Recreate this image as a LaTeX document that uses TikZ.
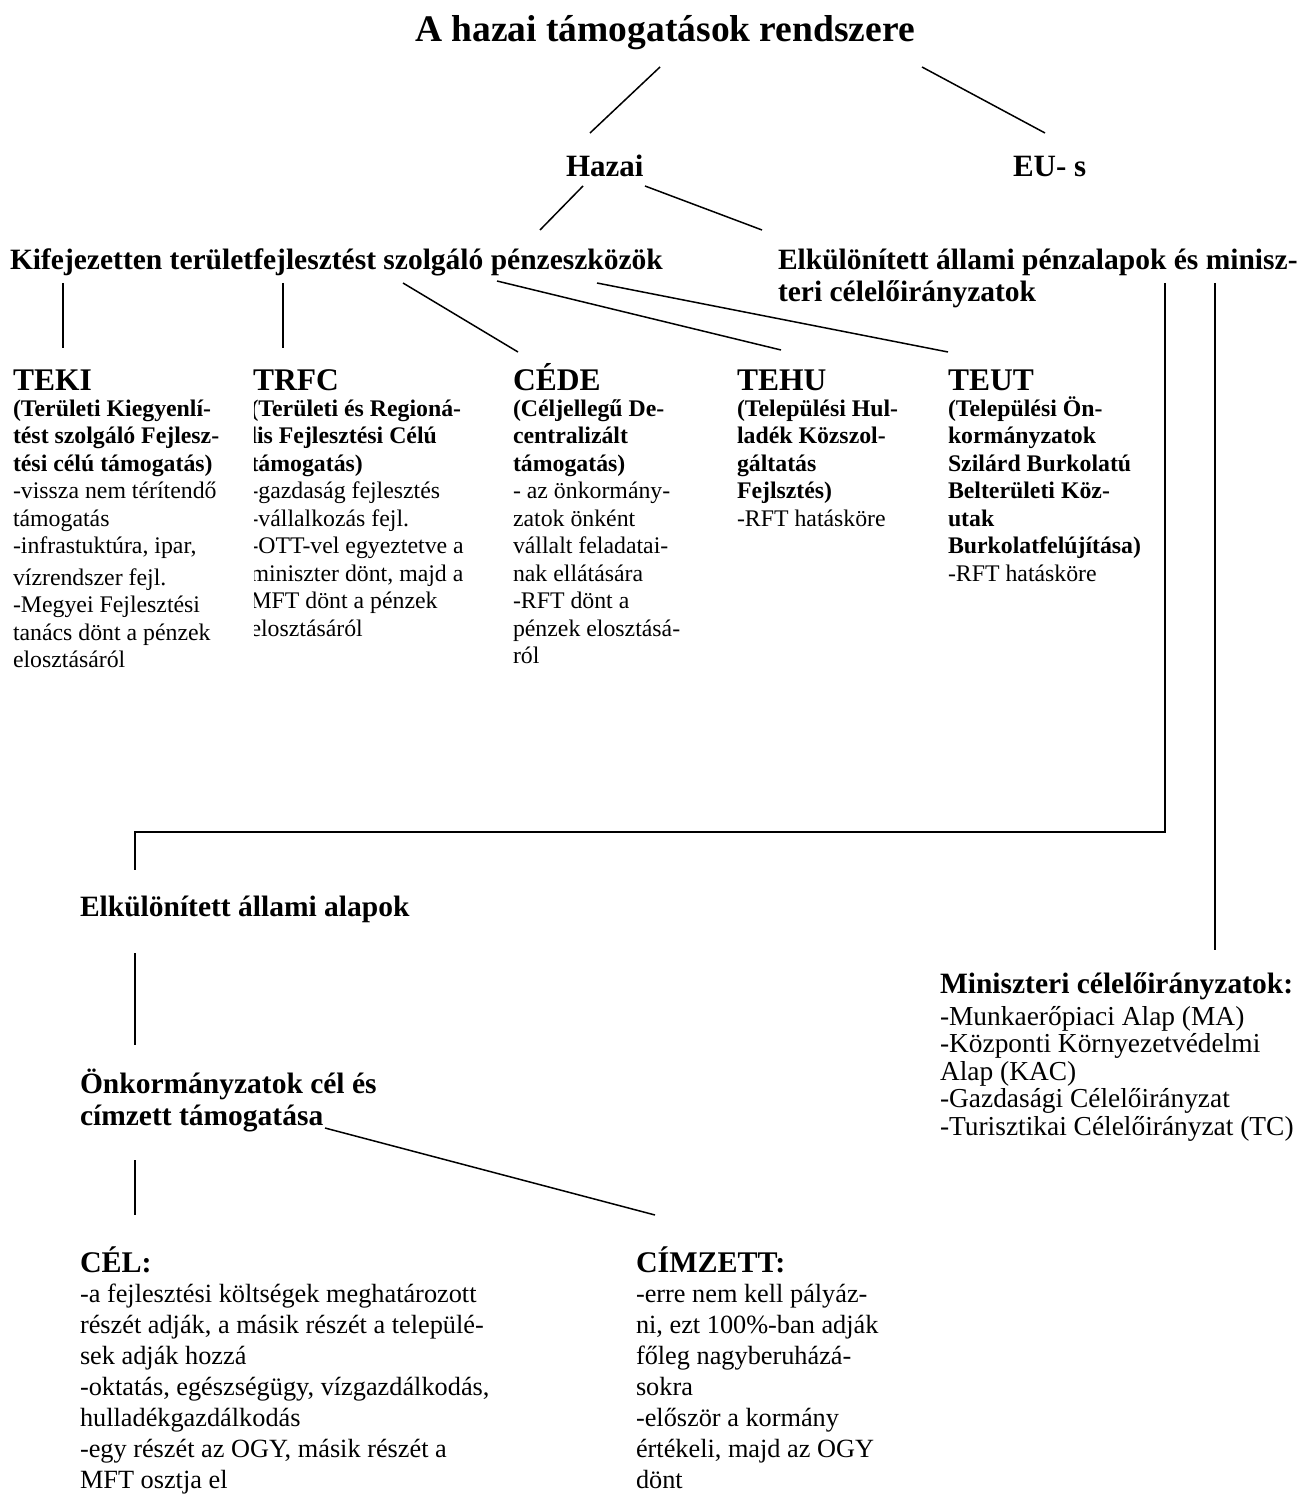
\documentclass[tikz,border=0pt]{standalone}
\usepackage{fontspec}
\setmainfont{Liberation Serif}
\newcommand{\hzlines}[2]{\vtop{\baselineskip=#1\relax\lineskiplimit=-\maxdimen\lineskip=0pt\halign{##\hfil\cr#2\crcr}}}
\begin{document}
\begin{tikzpicture}[x=1pt,y=-1pt,
  txt/.style={inner sep=0pt, outer sep=0pt, anchor=base west},
  hd/.style={txt, font=\bfseries\fontsize{31.5}{34}\selectfont},
  mid/.style={txt, font=\bfseries\fontsize{29.5}{32}\selectfont},
  sub/.style={txt, font=\fontsize{23.8}{27.5}\selectfont},
  big/.style={txt, font=\fontsize{26.3}{31}\selectfont},
  conn/.style={line width=1.5pt, line cap=butt}]
\useasboundingbox[fill=white] (0,0) rectangle (1300,1495);

% ---- top levels
\node[inner sep=0pt, anchor=base, font=\bfseries\fontsize{37.5}{40}\selectfont] (title) at (665,42) {A hazai támogatások rendszere};
\node[txt, font=\bfseries\fontsize{31}{34}\selectfont] (hazai) at (566,177) {Hazai};
\node[txt, font=\bfseries\fontsize{31}{34}\selectfont] (eu) at (1013,177) {EU- s};
\node[mid] (kif) at (10,270) {Kifejezetten területfejlesztést szolgáló pénzeszközök};
\node[mid] (elk) at (778,270) {\hzlines{32pt}{Elkülönített állami pénzalapok és minisz-\cr teri célelőirányzatok}};

% ---- five funds
\node[hd] (teki) at (13,390) {TEKI};
\node[sub] (tekib) at (13,416) {\hzlines{27.5pt}{\textbf{(Területi Kiegyenlí-}\cr \textbf{tést szolgáló Fejlesz-}\cr \textbf{tési célú támogatás)}\cr -vissza nem térítendő\cr támogatás\cr -infrastuktúra, ipar,\cr\noalign{\vskip4pt} vízrendszer fejl.\cr -Megyei Fejlesztési\cr tanács dönt a pénzek\cr elosztásáról}};

\node[hd] (trfc) at (253,390) {TRFC};
\begin{scope}
\clip (254,392) rectangle (505,700);
\node[sub] (trfcb) at (250.5,416) {\hzlines{27.5pt}{\textbf{(Területi és Regioná-}\cr \textbf{lis Fejlesztési Célú}\cr \textbf{támogatás)}\cr -gazdaság fejlesztés\cr -vállalkozás fejl.\cr -OTT-vel egyeztetve a\cr miniszter dönt, majd a\cr MFT dönt a pénzek\cr elosztásáról}};
\end{scope}

\node[hd] (cede) at (513,390) {CÉDE};
\node[sub] (cedeb) at (513,416) {\hzlines{27.5pt}{\textbf{(Céljellegű De-}\cr \textbf{centralizált}\cr \textbf{támogatás)}\cr - az önkormány-\cr zatok önként\cr vállalt feladatai-\cr nak ellátására\cr -RFT dönt a\cr pénzek elosztásá-\cr ról}};

\node[hd] (tehu) at (737,390) {TEHU};
\node[sub] (tehub) at (737,416) {\hzlines{27.5pt}{\textbf{(Települési Hul-}\cr \textbf{ladék Közszol-}\cr \textbf{gáltatás}\cr \textbf{Fejlsztés)}\cr -RFT hatásköre}};

\node[hd] (teut) at (948,390) {TEUT};
\node[sub] (teutb) at (948,416) {\hzlines{27.5pt}{\textbf{(Települési Ön-}\cr \textbf{kormányzatok}\cr \textbf{Szilárd Burkolatú}\cr \textbf{Belterületi Köz-}\cr \textbf{utak}\cr \textbf{Burkolatfelújítása)}\cr -RFT hatásköre}};

% ---- lower part
\node[mid] (ea) at (80,916) {Elkülönített állami alapok};
\node[mid] (mini) at (940,993) {Miniszteri célelőirányzatok:};
\node[txt, font=\fontsize{27.4}{28}\selectfont] (minib) at (940,1025) {\hzlines{27.5pt}{-Munkaerőpiaci Alap (MA)\cr -Központi Környezetvédelmi\cr Alap (KAC)\cr -Gazdasági Célelőirányzat\cr -Turisztikai Célelőirányzat (TC)}};
\node[mid] (onk) at (80,1093) {\hzlines{32pt}{Önkormányzatok cél és\cr címzett támogatása}};

\node[txt, font=\bfseries\fontsize{30}{33}\selectfont] (cel) at (80,1272) {CÉL:};
\node[big] (celb) at (80,1302) {\hzlines{31pt}{-a fejlesztési költségek meghatározott\cr részét adják, a másik részét a települé-\cr sek adják hozzá\cr -oktatás, egészségügy, vízgazdálkodás,\cr hulladékgazdálkodás\cr -egy részét az OGY, másik részét a\cr MFT osztja el}};
\node[txt, font=\bfseries\fontsize{30}{33}\selectfont] (cimz) at (636,1272) {CÍMZETT:};
\node[big] (cimzb) at (636,1302) {\hzlines{31pt}{-erre nem kell pályáz-\cr ni, ezt 100\%-ban adják\cr főleg nagyberuházá-\cr sokra\cr -először a kormány\cr értékeli, majd az OGY\cr dönt}};

% ---- connector end points
\coordinate (tA) at (660,67);   \coordinate (hA) at (590,133);
\coordinate (tB) at (922,67);   \coordinate (eA) at (1045,133);
\coordinate (hzA) at (583,186); \coordinate (kA) at (540,230);
\coordinate (hzB) at (645,186); \coordinate (elA) at (762,230);
\coordinate (k1) at (63,283);   \coordinate (f1) at (63,348);
\coordinate (k2) at (283,283);  \coordinate (f2) at (283,348);
\coordinate (k3) at (403,283);  \coordinate (f3) at (518,352);
\coordinate (k4) at (497,281);  \coordinate (f4) at (781,350);
\coordinate (k5) at (597,283);  \coordinate (f5) at (948,352);
\coordinate (el1) at (1165,283); \coordinate (eaT) at (135,870);
\coordinate (el2) at (1215,283); \coordinate (miT) at (1215,950);
\coordinate (eaB) at (135,953); \coordinate (onT) at (135,1045);
\coordinate (onB) at (135,1160); \coordinate (ceT) at (135,1215);
\coordinate (onC) at (325,1128); \coordinate (ciT) at (655,1215);

\draw[conn] (tA) -- (hA);
\draw[conn] (tB) -- (eA);
\draw[conn] (hzA) -- (kA);
\draw[conn] (hzB) -- (elA);
\draw[conn] (k1) -- (f1);
\draw[conn] (k2) -- (f2);
\draw[conn] (k3) -- (f3);
\draw[conn] (k4) -- (f4);
\draw[conn] (k5) -- (f5);
\draw[conn] (el1) -- (1165,832) -- (135,832) -- (eaT);
\draw[conn] (el2) -- (miT);
\draw[conn] (eaB) -- (onT);
\draw[conn] (onB) -- (ceT);
\draw[conn] (onC) -- (ciT);
\end{tikzpicture}
\end{document}
